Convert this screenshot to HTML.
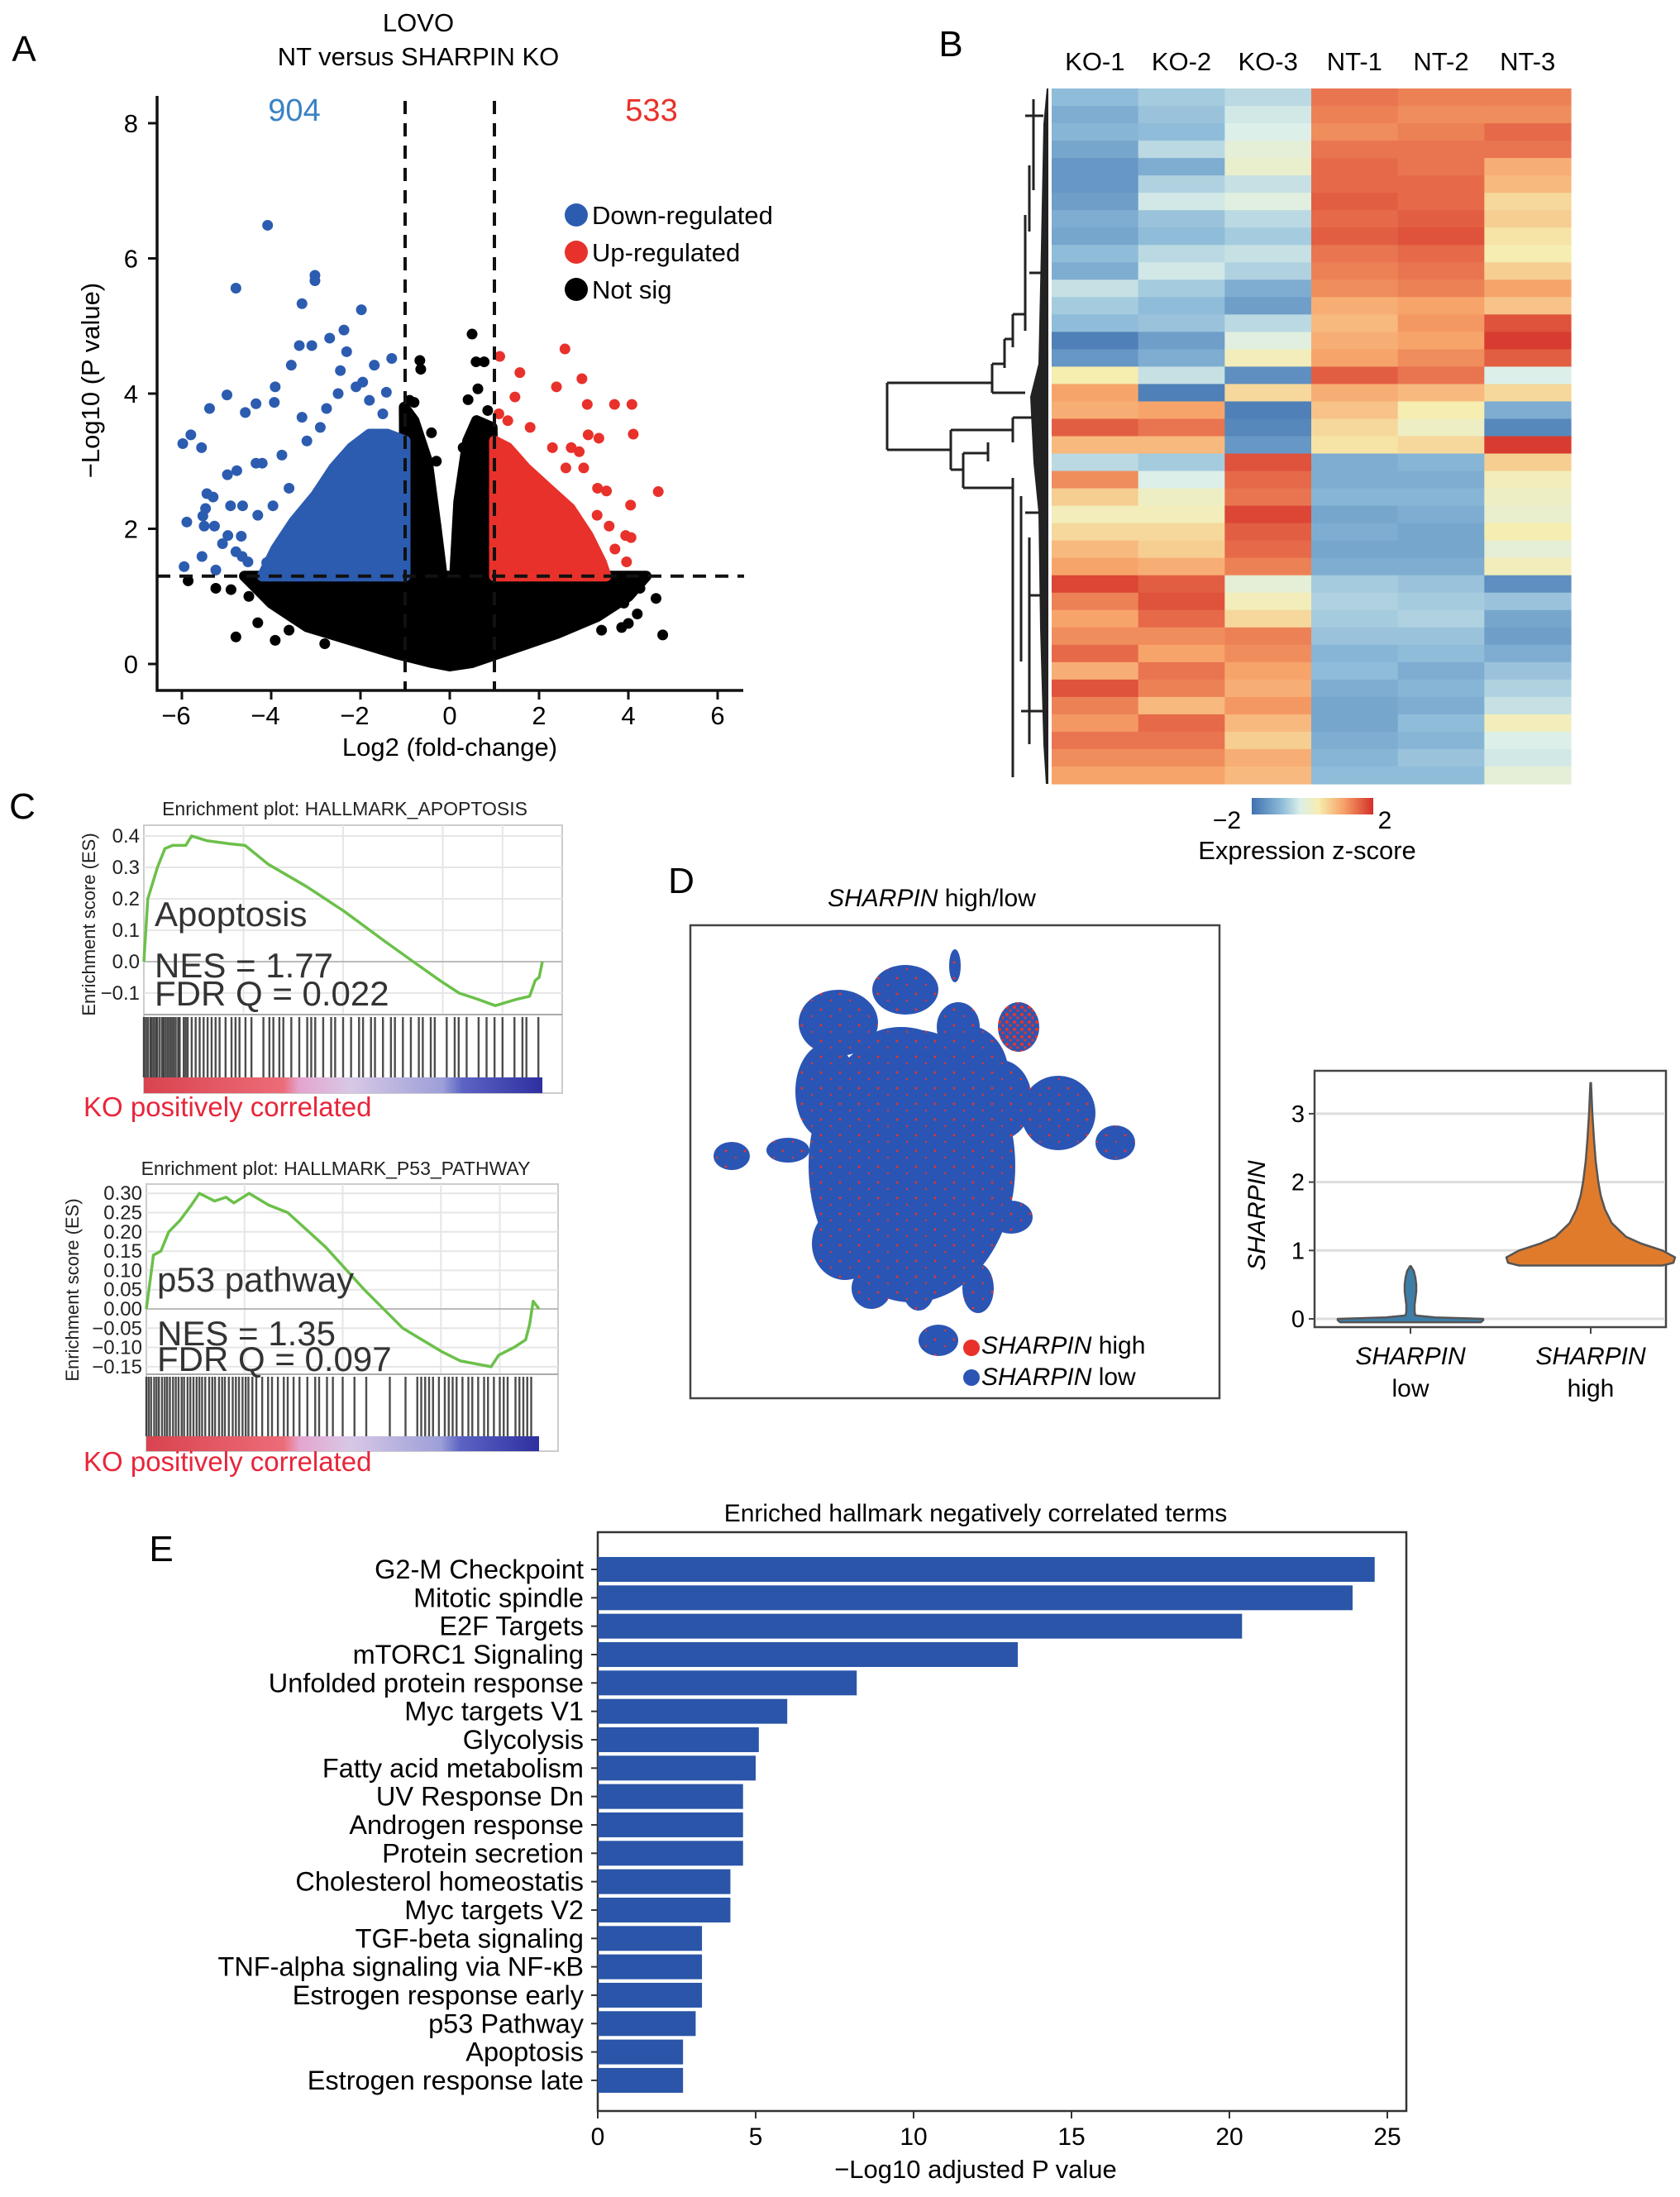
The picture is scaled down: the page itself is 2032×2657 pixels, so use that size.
<!DOCTYPE html>
<html><head><meta charset="utf-8"><title>SHARPIN figure</title>
<style>
html,body{margin:0;padding:0;background:#fff;}
svg{display:block;font-family:"Liberation Sans",Arial,sans-serif;}
</style></head>
<body>
<svg id="fig" width="2032" height="2657" viewBox="0 0 2032 2657" xmlns="http://www.w3.org/2000/svg">
<defs>
  <pattern id="umapPat" width="23" height="19" patternUnits="userSpaceOnUse">
    <rect width="23" height="19" fill="#2b55b4"/>
    <circle cx="4" cy="5" r="1.5" fill="#e0352b"/>
    <circle cx="16" cy="13" r="1.2" fill="#e0352b"/>
  </pattern>
  <pattern id="umapPatRed" width="9" height="9" patternUnits="userSpaceOnUse">
    <rect width="9" height="9" fill="#2b55b4"/>
    <circle cx="3" cy="3" r="2.2" fill="#e0352b"/>
    <circle cx="7" cy="7" r="1.6" fill="#e0352b"/>
  </pattern>
  <linearGradient id="cbarGrad" x1="0" x2="1" y1="0" y2="0">
    <stop offset="0" stop-color="#3f71b0"/>
    <stop offset="0.25" stop-color="#8fbcd9"/>
    <stop offset="0.4" stop-color="#dcefe9"/>
    <stop offset="0.55" stop-color="#f6edb0"/>
    <stop offset="0.75" stop-color="#f7a46a"/>
    <stop offset="1" stop-color="#d42f28"/>
  </linearGradient>
  <linearGradient id="rankGrad" x1="0" x2="1" y1="0" y2="0">
    <stop offset="0" stop-color="#d9434f"/>
    <stop offset="0.35" stop-color="#ec6c78"/>
    <stop offset="0.39" stop-color="#e4a5cf"/>
    <stop offset="0.52" stop-color="#d8c8e6"/>
    <stop offset="0.75" stop-color="#9c9fd8"/>
    <stop offset="0.8" stop-color="#5b63c3"/>
    <stop offset="1" stop-color="#2e2fa0"/>
  </linearGradient>
</defs>
<g id="panelA"></g>
<g id="panelB"></g>
<g id="panelC"></g>
<g id="panelD"></g>
<g id="panelE"></g>
</svg>
<script>
// ---------------- DATA ----------------
const downPts = [[-4.08,6.49],[-4.79,5.56],[-3.02,5.75],[-3.02,5.67],[-3.31,5.33],[-1.98,5.24],[-2.37,4.94],[-2.69,4.82],[-3.37,4.71],[-3.09,4.71],[-1.30,4.52],[-2.31,4.62],[-1.69,4.42],[-3.55,4.42],[-2.45,4.34],[-4.99,3.98],[-3.91,4.10],[-5.38,3.78],[-4.34,3.85],[-4.58,3.72],[-3.93,3.87],[-5.98,3.26],[-5.80,3.39],[-5.56,3.20],[-3.31,3.65],[-2.76,3.78],[-1.95,4.17],[-1.42,4.02],[-4.98,2.80],[-4.77,2.86],[-4.34,2.97],[-4.20,2.97],[-3.76,3.09],[-5.44,2.52],[-5.30,2.47],[-4.91,2.34],[-4.64,2.34],[-5.47,2.30],[-5.89,2.10],[-5.50,2.04],[-5.27,2.04],[-5.53,2.19],[-4.97,1.90],[-4.67,1.89],[-5.09,1.78],[-4.79,1.66],[-4.65,1.59],[-5.95,1.44],[-5.55,1.59],[-5.24,1.39],[-4.52,1.51],[-3.96,2.34],[-3.6,2.6],[-3.2,3.3],[-2.9,3.5],[-2.5,4.0],[-2.1,4.1],[-1.8,3.9],[-1.5,3.7],[-4.1,1.5],[-3.8,1.8],[-4.3,2.2]];
const upPts = [[1.12,4.55],[1.57,4.31],[2.58,4.66],[2.39,4.10],[1.46,3.95],[2.96,4.22],[3.08,3.84],[3.69,3.84],[4.08,3.84],[4.11,3.40],[3.10,3.39],[3.34,3.34],[4.67,2.55],[4.05,2.35],[3.57,2.04],[3.94,1.90],[4.06,1.87],[3.96,1.51],[3.31,2.60],[3.51,2.56],[2.72,3.20],[2.90,3.14],[1.3,3.6],[1.8,3.5],[2.3,3.2],[3.0,2.9],[3.3,2.2],[3.7,1.7],[2.6,2.9],[1.1,3.7]];
const nsPts = [[-0.67,4.49],[-0.65,4.36],[0.50,4.88],[0.59,4.47],[0.77,4.47],[0.63,4.07],[0.41,3.91],[-0.80,3.87],[-0.41,3.42],[-5.86,1.23],[-5.24,1.12],[-4.79,0.40],[-4.30,0.61],[-3.91,0.35],[4.26,1.12],[4.62,0.97],[4.77,0.43],[4.20,0.74],[3.85,0.54],[-1.66,0.28],[-4.9,1.1],[-4.5,1.0],[-3.6,0.5],[-2.8,0.3],[3.4,0.5],[3.9,0.9],[4.0,0.6],[-0.9,3.9],[0.85,3.75],[-0.3,3.0],[0.3,3.2]];
const downCloud = [[-1,1.3],[-1,3.3],[-1.4,3.4],[-1.8,3.4],[-2.2,3.2],[-2.6,2.9],[-3.0,2.5],[-3.5,2.1],[-3.9,1.7],[-4.2,1.3]];
const upCloud = [[1,1.3],[1,3.3],[1.3,3.2],[1.7,2.9],[2.2,2.6],[2.7,2.3],[3.1,1.9],[3.4,1.5],[3.5,1.3]];
const nsCloud = [[-4.6,1.3],[-4.0,0.9],[-3.2,0.55],[-2.2,0.35],[-1.2,0.15],[-0.4,0.02],[0,-0.03],[0.5,0.02],[1.3,0.2],[2.4,0.45],[3.3,0.7],[4.0,1.0],[4.4,1.3]];
const nsArmL = [[-1.0,1.2],[-1.02,3.8],[-0.8,3.6],[-0.5,3.0],[-0.3,2.0],[-0.15,1.2]];
const nsArmR = [[0.1,1.2],[0.2,2.4],[0.4,3.3],[0.6,3.6],[0.95,3.5],[1.0,1.2]];
const volcXTicks = [-6,-4,-2,0,2,4,6];
const volcYTicks = [0,2,4,6,8];

const sampleNames = ["KO-1","KO-2","KO-3","NT-1","NT-2","NT-3"];
const hmKO1 = [-1.0,-1.2,-1.1,-1.3,-1.5,-1.5,-1.4,-1.2,-1.3,-1.0,-1.2,-0.5,-0.8,-1.0,-1.8,-1.5,0.3,1.0,0.9,1.6,0.8,-0.6,1.2,0.6,0.2,0.5,0.8,1.0,1.8,1.3,1.0,1.2,1.5,0.9,1.7,1.3,1.1,1.4,1.2,1.0];
const hmKO2 = [-0.8,-0.9,-1.0,-0.6,-1.2,-0.7,-0.4,-0.9,-1.0,-0.6,-0.4,-0.8,-1.0,-0.9,-1.4,-1.2,-0.5,-1.8,1.0,1.4,0.8,-0.8,-0.3,0.1,0.2,0.5,0.6,0.9,1.6,1.7,1.5,1.2,1.0,1.4,1.3,0.8,1.5,1.4,1.2,1.0];
const hmKO3 = [-0.6,-0.4,-0.3,-0.1,0.0,-0.5,-0.2,-0.6,-0.8,-0.5,-0.7,-1.2,-1.4,-0.6,-0.2,0.2,-1.6,0.5,-1.8,-1.7,-1.5,1.7,1.5,1.4,1.8,1.6,1.5,1.3,-0.1,0.2,0.5,1.3,1.2,1.0,0.9,1.1,0.8,0.6,0.9,0.8];
const hmNT1 = [1.4,1.3,1.2,1.4,1.5,1.5,1.6,1.5,1.6,1.4,1.3,1.2,0.9,0.8,0.9,1.0,1.6,0.9,0.7,0.5,0.4,-1.2,-1.2,-1.1,-1.3,-1.2,-1.3,-1.2,-0.8,-0.7,-0.8,-0.9,-1.1,-1.0,-1.2,-1.3,-1.3,-1.2,-1.1,-1.0];
const hmNT2 = [1.3,1.2,1.3,1.4,1.4,1.5,1.5,1.6,1.7,1.5,1.4,1.3,1.0,1.1,1.0,1.2,1.4,0.8,0.3,0.1,0.5,-1.1,-1.2,-1.1,-1.2,-1.3,-1.3,-1.2,-0.9,-0.8,-0.7,-0.9,-1.0,-1.2,-1.1,-1.2,-1.0,-1.1,-0.9,-1.0];
const hmNT3 = [1.3,1.2,1.5,1.4,0.9,0.8,0.5,0.6,0.4,0.3,0.6,1.0,0.7,1.7,1.9,1.6,-0.3,0.5,-1.2,-1.7,1.9,0.6,0.2,0.1,0.0,0.3,-0.1,0.2,-1.6,-0.9,-1.3,-1.4,-1.2,-0.9,-0.7,-0.5,0.2,-0.3,-0.4,-0.1];

const apoRank = [0,1,3.4,5.3,7.2,10.5,12,15.8,21.6,25.4,31.2,40.7,50.3,59.9,67.6,74.3,79.1,83.9,88.2,93.5,96.8,98.2,99.2,100];
const apoES = [0,0.2,0.3,0.36,0.37,0.37,0.40,0.385,0.375,0.37,0.31,0.24,0.16,0.07,0.0,-0.06,-0.10,-0.12,-0.14,-0.12,-0.11,-0.06,-0.05,0.0];
const apoHits = [0,0.5,1,1.6,2,2.5,3,3.4,4,4.6,5,5.5,6,6.5,7,7.5,8,8.6,9,10,10.5,11,12,13,14,15,16,17,18,19,20.5,22,23,24,25.5,27,30,31.5,32.5,34,35,37,39,41,42,43,45,47,48,50,52,54,55,57,58,60,62,63,65,67,69,70,72,73,76,78,79,81,84,86,88,90,93,95,96,99];
const apoTicks = [0.4,0.3,0.2,0.1,0.0,-0.1];
const p53Rank = [0,1.3,1.8,3.7,5.7,8.6,11.5,13.5,17.4,20.3,22.3,26.2,31.1,36,45.7,55.5,65.3,75.1,80,87.8,89.7,93.6,96.6,97.6,98.5,100];
const p53ES = [0,0.1,0.14,0.15,0.20,0.23,0.27,0.30,0.28,0.29,0.275,0.30,0.27,0.25,0.16,0.05,-0.05,-0.11,-0.135,-0.15,-0.12,-0.10,-0.08,-0.04,0.02,0.0];
const p53Hits = [0,0.6,1.2,2,2.6,3.2,4,4.7,5.3,6,6.8,7.5,8.2,9,9.6,10.5,11.2,12,12.8,13.5,14.2,15,16,16.8,17.5,18.5,19.3,20,21,22,22.8,23.6,24.5,25.3,26,27,28,29.5,31,32,33.5,35,36,37.5,39,41,43,44,46,47.5,50,53,56,62,66,69,70,71,72,73,74.5,76,77,78,79,80.5,82,83,84.5,86,87,88.5,90,91,92,94,95,96,97,98];
const p53Ticks = [0.30,0.25,0.20,0.15,0.10,0.05,0.00,-0.05,-0.10,-0.15];

const vLowY = [-0.05,-0.02,0,0.02,0.05,0.1,0.2,0.3,0.4,0.5,0.6,0.7,0.77];
const vLowW = [0.85,0.88,0.88,0.3,0.06,0.05,0.05,0.06,0.07,0.07,0.06,0.04,0.005];
const vHighY = [0.78,0.82,0.9,1.0,1.1,1.2,1.4,1.6,1.8,2.0,2.3,2.6,3.0,3.45];
const vHighW = [0.85,0.98,1.0,0.85,0.6,0.42,0.25,0.17,0.12,0.09,0.06,0.04,0.02,0.004];
const violinTicks = [0,1,2,3];

const termNames = ["G2-M Checkpoint","Mitotic spindle","E2F Targets","mTORC1 Signaling","Unfolded protein response","Myc targets V1","Glycolysis","Fatty acid metabolism","UV Response Dn","Androgen response","Protein secretion","Cholesterol homeostatis","Myc targets V2","TGF-beta signaling","TNF-alpha signaling via NF-\u03baB","Estrogen response early","p53 Pathway","Apoptosis","Estrogen response late"];
const termValues = [24.6,23.9,20.4,13.3,8.2,6.0,5.1,5.0,4.6,4.6,4.6,4.2,4.2,3.3,3.3,3.3,3.1,2.7,2.7];
const barTicks = [0,5,10,15,20,25];

// ---------------- HELPERS ----------------
const NS = "http://www.w3.org/2000/svg";
function mk(parent, tag, attrs, text){
  const e = document.createElementNS(NS, tag);
  for (const k in attrs) e.setAttribute(k, attrs[k]);
  if (text !== undefined) e.textContent = text;
  parent.appendChild(e);
  return e;
}
function ptsStr(arr, fx, fy){ return arr.map(p => fx(p[0]).toFixed(1)+","+fy(p[1]).toFixed(1)).join(" "); }

// ---------------- PANEL A ----------------
(function(){
  const g = document.getElementById("panelA");
  const X = v => 544 + v*54.0;
  const Y = v => 803 - v*81.75;
  let t;
  t = mk(g,"text",{x:29,y:74,"font-size":44,"text-anchor":"middle"},"A");
   
  t = mk(g,"text",{x:506,y:38,"font-size":31,"text-anchor":"middle"},"LOVO");
   
  t = mk(g,"text",{x:506,y:79,"font-size":31,"text-anchor":"middle"},"NT versus SHARPIN KO");
   
  const clouds = [[nsCloud,"#000","ns-dense-region"],[nsArmL,"#000","ns-left-arm"],[nsArmR,"#000","ns-right-arm"],[downCloud,"#2c5cb0","down-dense-region"],[upCloud,"#e8312a","up-dense-region"]];
  clouds.forEach(c=>{
    const p = mk(g,"polygon",{points:ptsStr(c[0],X,Y),fill:c[1],stroke:c[1],"stroke-width":13,"stroke-linejoin":"round"});
    
    
  });
  const sets = [[nsPts,"#000","ns-point"],[downPts,"#2c5cb0","down-point"],[upPts,"#e8312a","up-point"]];
  sets.forEach(s=>{
    s[0].forEach(p=>{
      const c = mk(g,"circle",{cx:X(p[0]),cy:Y(p[1]),r:6.5,fill:s[1]});
      
      
    });
  });
  [-1,1].forEach(v=>{
    const l = mk(g,"line",{x1:X(v),x2:X(v),y1:122,y2:835,stroke:"#111","stroke-width":4,"stroke-dasharray":"16,11"});
     
  });
  const hl = mk(g,"line",{x1:190,x2:900,y1:Y(1.3),y2:Y(1.3),stroke:"#111","stroke-width":4,"stroke-dasharray":"16,11"});
   
  const ax = mk(g,"path",{d:"M190,116 V835 H899",fill:"none",stroke:"#111","stroke-width":3.5});
   
  volcXTicks.forEach(v=>{
    mk(g,"line",{x1:X(v),x2:X(v),y1:835,y2:846,stroke:"#111","stroke-width":3});
    const tt = mk(g,"text",{x:X(v)-(v<0?7:0),y:876,"font-size":31,"text-anchor":"middle"},(v<0?"\u2212":"")+Math.abs(v));
     
  });
  volcYTicks.forEach(v=>{
    mk(g,"line",{x1:179,x2:190,y1:Y(v),y2:Y(v),stroke:"#111","stroke-width":3});
    const tt = mk(g,"text",{x:167,y:Y(v)+11,"font-size":31,"text-anchor":"end"},String(v));
     
  });
  t = mk(g,"text",{x:544,y:914,"font-size":31,"text-anchor":"middle"},"Log2 (fold-change)");
   
  t = mk(g,"text",{x:0,y:0,"font-size":31,"text-anchor":"middle",transform:"translate(120,460) rotate(-90)"},"\u2212Log10 (P value)");
   
  t = mk(g,"text",{x:356,y:146,"font-size":38,"text-anchor":"middle",fill:"#3a82c4"},"904");
   
  t = mk(g,"text",{x:788,y:146,"font-size":38,"text-anchor":"middle",fill:"#e8312a"},"533");
   
  const leg = [["Down-regulated","#2c5cb0",260],["Up-regulated","#e8312a",305],["Not sig","#000",350]];
  leg.forEach(l=>{
    const c = mk(g,"circle",{cx:697,cy:l[2],r:14,fill:l[1]});
     
    const tt = mk(g,"text",{x:716,y:l[2]+11,"font-size":31},l[0]);
     
  });
})();

// ---------------- PANEL B ----------------
(function(){
  const g = document.getElementById("panelB");
  const cols = [hmKO1,hmKO2,hmKO3,hmNT1,hmNT2,hmNT3];
  const left = 1272, right = 1900, top = 107, bottom = 948;
  const cw = (right-left)/6, rh = (bottom-top)/hmKO1.length;
  const stops = [[-2,[63,113,176]],[-1,[143,188,217]],[-0.3,[220,239,233]],[0.3,[246,237,176]],[1,[247,164,106]],[2,[212,47,40]]];
  function col(v){
    v = Math.max(-2,Math.min(2,v));
    for (let i=0;i<stops.length-1;i++){
      if (v<=stops[i+1][0]){
        const f=(v-stops[i][0])/(stops[i+1][0]-stops[i][0]);
        const a=stops[i][1], b=stops[i+1][1];
        return "rgb("+a.map((x,k)=>Math.round(x+(b[k]-x)*f)).join(",")+")";
      }
    }
    return "rgb(212,47,40)";
  }
  let t = mk(g,"text",{x:1150,y:68,"font-size":44,"text-anchor":"middle"},"B");
   
  cols.forEach((arr,ci)=>{
    arr.forEach((v,ri)=>{
      const r = mk(g,"rect",{x:(left+ci*cw).toFixed(2),y:(top+ri*rh).toFixed(2),width:(cw+0.6).toFixed(2),height:(rh+0.6).toFixed(2),fill:col(v)});
      
      
    });
    const tt = mk(g,"text",{x:left+ci*cw+cw/2,y:85,"font-size":31,"text-anchor":"middle"},sampleNames[ci]);
     
  });
  const d = "M1073,463 V544 M1073,463 H1200 M1073,544 H1150 M1150,520 V568 M1150,520 H1225 M1150,568 H1165 M1165,548 V590 M1165,548 H1195 M1165,590 H1225 M1225,578 V940 M1200,440 V475 M1200,440 H1215 M1200,475 H1240 M1215,410 V445 M1215,410 H1225 M1225,380 V420 M1225,380 H1240 M1240,320 V400 M1225,505 V535 M1225,505 H1250 M1195,535 V558 M1240,260 V330 M1245,200 V280 M1250,120 V230 M1235,600 V800 M1245,650 V900 M1240,140 H1262 M1245,330 H1262 M1240,620 H1262 M1245,720 H1262 M1235,860 H1262";
  const dp = mk(g,"path",{d:d,fill:"none",stroke:"#222","stroke-width":3});
   
  const fringe = mk(g,"polygon",{points:"1266,107 1262,150 1259,300 1256,440 1246,480 1250,560 1256,620 1258,760 1262,900 1265,948 1268,948 1268,107",fill:"#222"});
   
  const cb = mk(g,"rect",{x:1514,y:965,width:147,height:20,fill:"url(#cbarGrad)"});
   
  t = mk(g,"text",{x:1484,y:1002,"font-size":30,"text-anchor":"middle"},"\u22122");
   
  t = mk(g,"text",{x:1675,y:1002,"font-size":30,"text-anchor":"middle"},"2");
   
  t = mk(g,"text",{x:1581,y:1039,"font-size":31,"text-anchor":"middle"},"Expression z-score");
   
})();

// ---------------- PANEL C ----------------
function gsea(g, cfg){
  const X = r => cfg.x0 + r/100*(cfg.x1-cfg.x0);
  const Y = v => cfg.y0 - v*cfg.k;
  const box = mk(g,"rect",{x:cfg.bl,y:cfg.bt,width:cfg.br-cfg.bl,height:cfg.bb-cfg.bt,fill:"none",stroke:"#ccc","stroke-width":2});
   
  [25,50,75,90].forEach(r=>{ mk(g,"line",{x1:X(r),x2:X(r),y1:cfg.bt,y2:cfg.esb,stroke:"#e6e6e6","stroke-width":2}); });
  cfg.ticks.forEach(v=>{
    mk(g,"line",{x1:cfg.bl,x2:cfg.br,y1:Y(v),y2:Y(v),stroke:Math.abs(v)<1e-9?"#bbb":"#e6e6e6","stroke-width":2});
    const tt = mk(g,"text",{x:cfg.bl-5,y:Y(v)+8,"font-size":24,"text-anchor":"end",fill:"#222"},(v<0?"\u2212":"")+Math.abs(v).toFixed(cfg.dec));
     
  });
  mk(g,"line",{x1:cfg.bl,x2:cfg.br,y1:cfg.esb,y2:cfg.esb,stroke:"#aaa","stroke-width":2});
  cfg.hits.forEach(r=>{
    const l = mk(g,"line",{x1:X(r),x2:X(r),y1:cfg.esb+3,y2:cfg.cbt,stroke:"#111","stroke-width":2.4,"stroke-opacity":0.75});
     
  });
  const rb = mk(g,"rect",{x:cfg.x0,y:cfg.cbt,width:cfg.x1-cfg.x0,height:cfg.cbh,fill:"url(#rankGrad)"});
   
  const pts = cfg.rank.map((r,i)=>X(r).toFixed(1)+","+Y(cfg.es[i]).toFixed(1)).join(" ");
  const pl = mk(g,"polyline",{points:pts,fill:"none",stroke:"#6cc04a","stroke-width":3.5,"stroke-linejoin":"round"});
   
  let t = mk(g,"text",{x:cfg.tx,y:cfg.ty,"font-size":23,"text-anchor":"middle",fill:"#222"},cfg.title);
   
  t = mk(g,"text",{x:0,y:0,"font-size":22,"text-anchor":"middle",fill:"#222",transform:"translate("+cfg.ylx+","+cfg.yly+") rotate(-90)"},"Enrichment score (ES)");
   
  t = mk(g,"text",{x:cfg.bl+13,y:cfg.lab[0],"font-size":42,fill:"#333"},cfg.label);
   
  t = mk(g,"text",{x:cfg.bl+13,y:cfg.lab[1],"font-size":42,fill:"#333"},cfg.nes);
   
  t = mk(g,"text",{x:cfg.bl+13,y:cfg.lab[2],"font-size":42,fill:"#333"},cfg.fdr);
   
  t = mk(g,"text",{x:101,y:cfg.lab[3],"font-size":33,fill:"#e8253a"},"KO positively correlated");
   
}
(function(){
  const g = document.getElementById("panelC");
  let t = mk(g,"text",{x:27,y:990,"font-size":44,"text-anchor":"middle"},"C");
   
  gsea(g,{name:"apoptosis",x0:174,x1:656,y0:1163,k:380,bl:174,br:680,bt:998,bb:1322,esb:1227,cbt:1303,cbh:19,
    ticks:apoTicks,dec:1,hits:apoHits,rank:apoRank,es:apoES,title:"Enrichment plot: HALLMARK_APOPTOSIS",tx:417,ty:986,
    ylx:115,yly:1118,label:"Apoptosis",nes:"NES = 1.77",fdr:"FDR Q = 0.022",lab:[1120,1182,1216,1350]});
  gsea(g,{name:"p53",x0:177,x1:652,y0:1583,k:466,bl:177,br:675,bt:1432,bb:1755,esb:1662,cbt:1737,cbh:18,
    ticks:p53Ticks,dec:2,hits:p53Hits,rank:p53Rank,es:p53ES,title:"Enrichment plot: HALLMARK_P53_PATHWAY",tx:406,ty:1421,
    ylx:95,yly:1560,label:"p53 pathway",nes:"NES = 1.35",fdr:"FDR Q = 0.097",lab:[1562,1627,1658,1779]});
})();

// ---------------- PANEL D ----------------
(function(){
  const g = document.getElementById("panelD");
  let t = mk(g,"text",{x:824,y:1080,"font-size":44,"text-anchor":"middle"},"D");
   
  t = mk(g,"text",{x:1127,y:1096,"font-size":30,"text-anchor":"middle"});
   
  mk(t,"tspan",{"font-style":"italic"},"SHARPIN");
  mk(t,"tspan",{}," high/low");
  const frame = mk(g,"rect",{x:835,y:1119,width:640,height:572,fill:"none",stroke:"#444","stroke-width":2.5});
   
  const blobs = [[1103,1410,125,165],[1014,1237,48,40],[1095,1197,40,30],[1159,1242,26,30],[1155,1168,7,20],[1280,1346,45,45],[1349,1382,24,21],[885,1398,22,17],[953,1391,26,15],[1022,1504,40,44],[1054,1558,24,25],[1111,1560,19,25],[1183,1558,19,30],[1135,1621,24,19],[1223,1472,26,20],[1000,1320,38,58],[1210,1330,38,48],[1090,1280,58,38],[1170,1300,50,60],[1040,1440,50,70]];
  blobs.forEach(b=>{
    const e = mk(g,"ellipse",{cx:b[0],cy:b[1],rx:b[2],ry:b[3],fill:"url(#umapPat)"});
     
  });
  const hc = mk(g,"ellipse",{cx:1232,cy:1242,rx:25,ry:30,fill:"url(#umapPatRed)"});
   
  const lg = [["#e8312a"," high",1637,1630],["#2b55b4"," low",1675,1666]];
  lg.forEach(l=>{
    const c = mk(g,"circle",{cx:1175,cy:l[3],r:10,fill:l[0]});
     
    const tt = mk(g,"text",{x:1187,y:l[2],"font-size":30});
     
    mk(tt,"tspan",{"font-style":"italic"},"SHARPIN");
    mk(tt,"tspan",{},l[1]);
  });
  const Y = v => 1595 - v*82.7;
  const vb = mk(g,"rect",{x:1590,y:1295,width:425,height:310,fill:"none",stroke:"#444","stroke-width":2.5});
   
  violinTicks.forEach(v=>{
    mk(g,"line",{x1:1591,x2:2014,y1:Y(v),y2:Y(v),stroke:"#ddd","stroke-width":3});
    mk(g,"line",{x1:1583,x2:1590,y1:Y(v),y2:Y(v),stroke:"#444","stroke-width":2});
    const tt = mk(g,"text",{x:1578,y:Y(v)+10,"font-size":29,"text-anchor":"end"},String(v));
     
  });
  function violin(cx, ys, ws, maxW, fill, name){
    const right = ys.map((y,i)=>(cx+ws[i]*maxW).toFixed(1)+","+Y(y).toFixed(1));
    const left = ys.map((y,i)=>(cx-ws[i]*maxW).toFixed(1)+","+Y(y).toFixed(1)).reverse();
    const p = mk(g,"polygon",{points:right.concat(left).join(" "),fill:fill,stroke:"#555","stroke-width":2.5,"stroke-linejoin":"round"});
     
  }
  violin(1706, vLowY, vLowW, 100, "#3d7ea8", "violin-sharpin-low");
  violin(1924, vHighY, vHighW, 102, "#e07b2c", "violin-sharpin-high");
  [[1706,"low"],[1924,"high"]].forEach(c=>{
    mk(g,"line",{x1:c[0],x2:c[0],y1:1605,y2:1613,stroke:"#444","stroke-width":2});
    let tt = mk(g,"text",{x:c[0],y:1650,"font-size":30,"text-anchor":"middle","font-style":"italic"},"SHARPIN");
     
    tt = mk(g,"text",{x:c[0],y:1689,"font-size":30,"text-anchor":"middle"},c[1]);
     
  });
  t = mk(g,"text",{x:0,y:0,"font-size":30,"text-anchor":"middle","font-style":"italic",transform:"translate(1530,1470) rotate(-90)"},"SHARPIN");
   
})();

// ---------------- PANEL E ----------------
(function(){
  const g = document.getElementById("panelE");
  const X = v => 723 + v*38.2;
  const rowY = i => 1898 + i*34.33;
  let t = mk(g,"text",{x:195,y:1888,"font-size":44,"text-anchor":"middle"},"E");
   
  t = mk(g,"text",{x:1180,y:1840,"font-size":30,"text-anchor":"middle"},"Enriched hallmark negatively correlated terms");
   
  const box = mk(g,"rect",{x:723,y:1853,width:978,height:700,fill:"none",stroke:"#333","stroke-width":2.5});
   
  termValues.forEach((v,i)=>{
    const r = mk(g,"rect",{x:X(0),y:rowY(i)-15,width:X(v)-X(0),height:30,fill:"#2a55a8"});
    
    
    const tt = mk(g,"text",{x:706,y:rowY(i)+11,"font-size":32.5,"text-anchor":"end"},termNames[i]);
     
    mk(g,"line",{x1:715,x2:723,y1:rowY(i),y2:rowY(i),stroke:"#333","stroke-width":2});
  });
  barTicks.forEach(v=>{
    mk(g,"line",{x1:X(v),x2:X(v),y1:2553,y2:2562,stroke:"#333","stroke-width":2});
    const tt = mk(g,"text",{x:X(v),y:2594,"font-size":30,"text-anchor":"middle"},String(v));
     
  });
  t = mk(g,"text",{x:1180,y:2634,"font-size":31,"text-anchor":"middle"},"\u2212Log10 adjusted P value");
   
})();
</script>
</body></html>
